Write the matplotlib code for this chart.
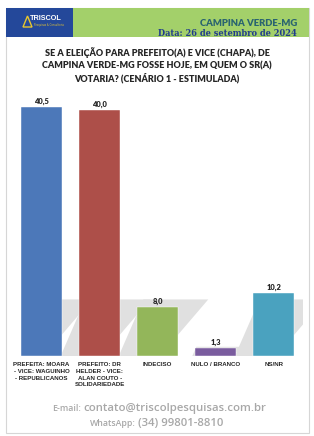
import numpy as np
import matplotlib
matplotlib.use("Agg")
import matplotlib.pyplot as plt
from matplotlib.patches import Rectangle, Polygon

# data
categories = [
    "PREFEITA: MOARA\n- VICE: WAGUINHO\n- REPUBLICANOS",
    "PREFEITO: DR\nHELDER - VICE:\nALAN COUTO -\nSOLIDARIEDADE",
    "INDECISO",
    "NULO / BRANCO",
    "NS/NR",
]
values = [40.5, 40.0, 8.0, 1.3, 10.2]
value_labels = ["40,5", "40,0", "8,0", "1,3", "10,2"]
bar_colors = ["#4c78b9", "#ad4f49", "#93b65a", "#7a5c9e", "#4aa2bf"]

title = ("SE A ELEIÇÃO PARA PREFEITO(A) E VICE (CHAPA), DE\n"
         "CAMPINA VERDE-MG FOSSE HOJE, EM QUEM O SR(A)\n"
         "VOTARIA? (CENÁRIO 1 - ESTIMULADA)")
place = "CAMPINA VERDE-MG"
date_txt = "Data: 26 de setembro de 2024"

W, H = 314, 436
fig = plt.figure(figsize=(W / 100, H / 100), dpi=100)
fig.patch.set_facecolor("white")

def fx(px):
    return px / W

def fy(py):
    return 1 - py / H

bold = dict(family=["Lato", "DejaVu Sans"], weight="heavy")
narrow = dict(family=["Liberation Sans Narrow", "Liberation Sans", "DejaVu Sans"], weight="bold")

# card border
fig.add_artist(Rectangle((fx(6), fy(433)), fx(303), 425 / H, transform=fig.transFigure,
                         facecolor="white", edgecolor="#d6d6d6", lw=0.8, zorder=-5))

# header
fig.add_artist(Rectangle((fx(6), fy(37)), fx(67), 29 / H, transform=fig.transFigure,
                         facecolor="#24489a", edgecolor="none", zorder=-4))
fig.add_artist(Rectangle((fx(73), fy(37)), fx(236), 29 / H, transform=fig.transFigure,
                         facecolor="#a3d06a", edgecolor="none", zorder=-4))
tri = np.array([[23, 27], [32, 27], [27.5, 16]])
fig.add_artist(Polygon([(fx(a), fy(b)) for a, b in tri], closed=True, transform=fig.transFigure,
                       facecolor="none", edgecolor="#e8c62e", lw=1.0))
fig.text(fx(30), fy(19), "TRISCOL", color="white", fontsize=5.2, va="center", ha="left", **narrow)
fig.text(fx(34), fy(25), "Pesquisas & Consultoria", color="#e8c62e", fontsize=1.8, va="center", ha="left")
fig.text(fx(297), fy(23), place, color="#2a6470", fontsize=6.8, ha="right", va="center", **bold)
fig.text(fx(297), fy(33), date_txt, color="#1f3b8c", fontsize=6.6, ha="right", va="center",
         family=["DejaVu Serif"], weight="bold", stretch="condensed")

# title
fig.text(fx(157), fy(65.5), title, ha="center", va="center", fontsize=6.5, color="#262626",
         linespacing=1.38, **bold)

# chart
base_px, unit_px = 356, 6.15
ymax = 45
ax = fig.add_axes([fx(12.5), fy(base_px), fx(290.5), ymax * unit_px / H])
ax.set_xlim(-0.5, len(values) - 0.5)
ax.set_ylim(0, ymax)
ax.axis("off")

x = np.arange(len(values))
bw = 0.707
# soft shadows behind the bars
clip = Rectangle((-bw / 2, 0), len(values) - 0.5 + bw / 2, ymax, transform=ax.transData)
for xi, v in zip(x, values):
    hs = min(v * 1.15, 9.2)
    s = hs / 9.2
    xl, xr = xi - bw / 2, xi + bw / 2
    pts = [(xl - 0.45 * bw * s, 0), (xr - 0.45 * bw * s, 0),
           (xr + 0.73 * bw * s, hs), (xl + 0.15 * bw * s, hs)]
    p = Polygon(pts, closed=True, facecolor="#e0e0e0", edgecolor="none", zorder=1)
    ax.add_patch(p)
    p.set_clip_path(clip)

ax.bar(x, values, width=bw, color=bar_colors, edgecolor="white", linewidth=0.3, zorder=2)
for xi, v, lab in zip(x, values, value_labels):
    ax.annotate(lab, (xi, v), xytext=(0, 2), textcoords="offset pixels", ha="center",
                va="bottom", fontsize=5.4, color="#262626", **bold)
for xi, cat in zip(x, categories):
    ax.annotate(cat, (xi, 0), xytext=(0, -6), textcoords="offset pixels", ha="center",
                va="top", fontsize=4.4, color="#262626", linespacing=1.45,
                annotation_clip=False, **narrow)

# footer
foot = dict(family=["Open Sans", "DejaVu Sans"], weight="semibold", color="#a8a8a8")
fig.text(fx(81), fy(408), "E-mail:", ha="right", va="center", fontsize=6.3, **foot)
fig.text(fx(83), fy(408), "contato@triscolpesquisas.com.br", ha="left", va="center",
         fontsize=8.2, **foot)
fig.text(fx(136), fy(423), "WhatsApp:", ha="right", va="center", fontsize=6.3, **foot)
fig.text(fx(138), fy(423), "(34) 99801-8810", ha="left", va="center", fontsize=8.2, **foot)

fig.savefig("out.png", dpi=100)
